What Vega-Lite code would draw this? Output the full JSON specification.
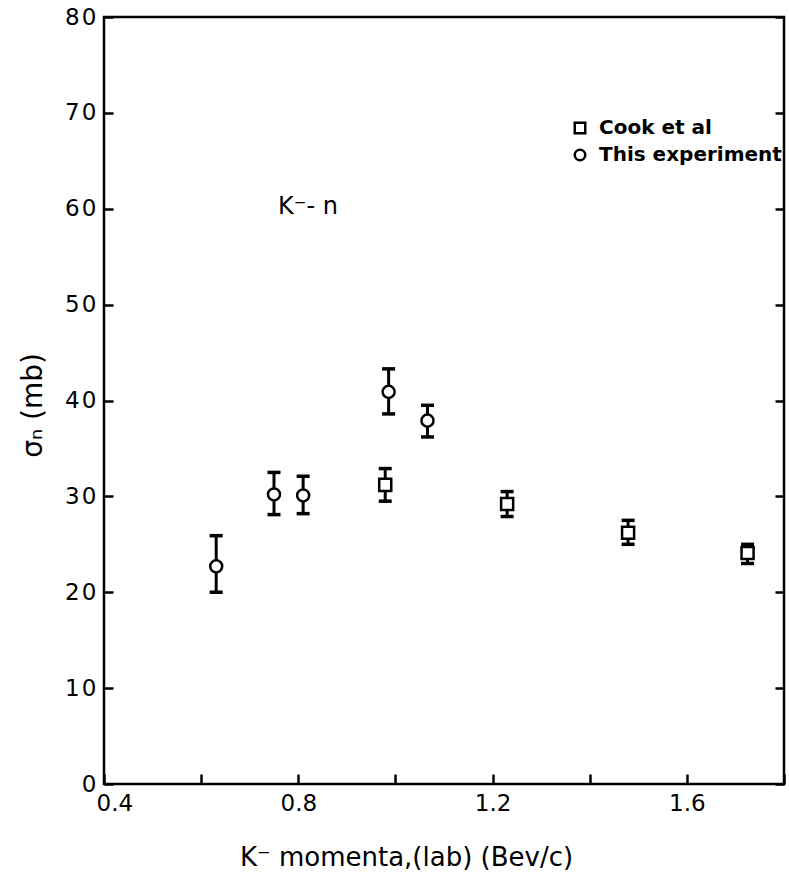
{
  "$schema": "https://vega.github.io/schema/vega-lite/v6.json",
  "width": 680,
  "height": 767,
  "autosize": "none",
  "padding": {"left": 104, "top": 17, "right": 5, "bottom": 104},
  "background": "white",
  "config": {
    "font": "DejaVu Sans",
    "view": {"stroke": "black", "strokeWidth": 2.5},
    "axis": {
      "domain": false,
      "grid": false,
      "tickColor": "black",
      "tickWidth": 2.5,
      "labelColor": "black",
      "labelFont": "DejaVu Sans",
      "labelFontSize": 23,
      "titleColor": "black",
      "titleFont": "DejaVu Sans",
      "titleFontSize": 26,
      "titleFontWeight": "normal"
    }
  },
  "datasets": {
    "sigma": [
      {"series": "This experiment", "p": 0.631, "sigma": 22.7, "lo": 20.0, "hi": 25.9},
      {"series": "This experiment", "p": 0.750, "sigma": 30.2, "lo": 28.1, "hi": 32.5},
      {"series": "This experiment", "p": 0.810, "sigma": 30.1, "lo": 28.2, "hi": 32.1},
      {"series": "This experiment", "p": 0.986, "sigma": 40.9, "lo": 38.6, "hi": 43.3},
      {"series": "This experiment", "p": 1.066, "sigma": 37.9, "lo": 36.2, "hi": 39.5},
      {"series": "Cook et al", "p": 0.979, "sigma": 31.2, "lo": 29.5, "hi": 32.9},
      {"series": "Cook et al", "p": 1.230, "sigma": 29.2, "lo": 27.9, "hi": 30.5},
      {"series": "Cook et al", "p": 1.479, "sigma": 26.2, "lo": 25.0, "hi": 27.5},
      {"series": "Cook et al", "p": 1.725, "sigma": 24.1, "lo": 23.0, "hi": 25.0}
    ],
    "note": [
      {"p": 0.82, "sigma": 60.2, "label": "K⁻- n"}
    ]
  },
  "resolve": {"axis": {"y": "independent"}},
  "layer": [
    {
      "data": {"name": "sigma"},
      "mark": {"type": "rule", "color": "black", "strokeWidth": 3},
      "encoding": {
        "x": {
          "field": "p", "type": "quantitative",
          "scale": {"domain": [0.4, 1.8], "nice": false, "zero": false},
          "axis": {
            "orient": "bottom",
            "values": [0.4, 0.6, 0.8, 1.0, 1.2, 1.4, 1.6, 1.8],
            "format": ".1f",
            "labelExpr": "indexof(['0.4','0.8','1.2','1.6'], datum.label) >= 0 ? datum.label : ''",
            "tickSize": -10,
            "labelPadding": 18,
            "labelFlush": true,
            "labelFlushOffset": 8,
            "labelOverlap": false,
            "title": "K⁻ momenta,(lab)  (Bev/c)",
            "titleX": 302,
            "titleY": 73,
            "titleAnchor": null,
            "titleAlign": "center",
            "titleBaseline": "middle"
          }
        },
        "y": {
          "field": "lo", "type": "quantitative",
          "scale": {"domain": [0, 80], "nice": false},
          "axis": {
            "orient": "left",
            "values": [0, 10, 20, 30, 40, 50, 60, 70, 80],
            "labelExpr": "join(split(datum.label, ''), '\u200a')",
            "tickSize": -9,
            "labelPadding": 17,
            "labelFlush": false,
            "labelOverlap": false,
            "title": "σₙ (mb)",
            "titleFontSize": 28,
            "titleAngle": -90,
            "titleX": -71,
            "titleY": 388,
            "titleAlign": "center",
            "titleBaseline": "middle"
          }
        },
        "y2": {"field": "hi"}
      }
    },
    {
      "data": {"name": "sigma"},
      "mark": {"type": "tick", "color": "black", "opacity": 1, "orient": "horizontal", "size": 13, "thickness": 3.5},
      "encoding": {
        "x": {"field": "p", "type": "quantitative"},
        "y": {"field": "hi", "type": "quantitative", "scale": {"domain": [0, 80], "nice": false}, "axis": null}
      }
    },
    {
      "data": {"name": "sigma"},
      "mark": {"type": "tick", "color": "black", "opacity": 1, "orient": "horizontal", "size": 13, "thickness": 3.5},
      "encoding": {
        "x": {"field": "p", "type": "quantitative"},
        "y": {"field": "lo", "type": "quantitative", "scale": {"domain": [0, 80], "nice": false}, "axis": null}
      }
    },
    {
      "data": {"name": "sigma"},
      "mark": {"type": "point", "filled": true, "fill": "white", "stroke": "black", "strokeWidth": 2.5, "opacity": 1, "size": 145},
      "encoding": {
        "x": {"field": "p", "type": "quantitative"},
        "y": {"field": "sigma", "type": "quantitative", "scale": {"domain": [0, 80], "nice": false}, "axis": null},
        "shape": {
          "field": "series", "type": "nominal",
          "scale": {"domain": ["Cook et al", "This experiment"], "range": ["square", "circle"]},
          "legend": {
            "orient": "none",
            "legendX": 466,
            "legendY": 101,
            "padding": 0,
            "title": null,
            "labelFont": "DejaVu Sans",
            "labelFontSize": 20,
            "labelFontWeight": "bold",
            "labelColor": "black",
            "labelLimit": 300,
            "symbolSize": 110,
            "symbolStrokeWidth": 2.5,
            "rowPadding": 5,
            "labelOffset": 9,
            "encode": {
              "symbols": {
                "update": {
                  "stroke": {"value": "black"},
                  "strokeWidth": {"value": 2.5},
                  "fill": {"value": "white"},
                  "opacity": {"value": 1}
                }
              }
            }
          }
        }
      }
    },
    {
      "data": {"name": "note"},
      "mark": {"type": "text", "font": "DejaVu Sans", "fontSize": 24, "color": "black", "align": "center", "baseline": "middle"},
      "encoding": {
        "x": {"field": "p", "type": "quantitative"},
        "y": {"field": "sigma", "type": "quantitative", "scale": {"domain": [0, 80], "nice": false}, "axis": null},
        "text": {"field": "label"}
      }
    },
    {
      "data": {"name": "sigma"},
      "mark": {"type": "rule", "opacity": 0},
      "encoding": {
        "x": {"field": "p", "type": "quantitative"},
        "y": {
          "field": "sigma", "type": "quantitative",
          "scale": {"domain": [0, 80], "nice": false},
          "axis": {
            "orient": "right",
            "values": [0, 10, 20, 30, 40, 50, 60, 70, 80],
            "tickSize": -9,
            "labels": false,
            "title": null
          }
        }
      }
    }
  ]
}
